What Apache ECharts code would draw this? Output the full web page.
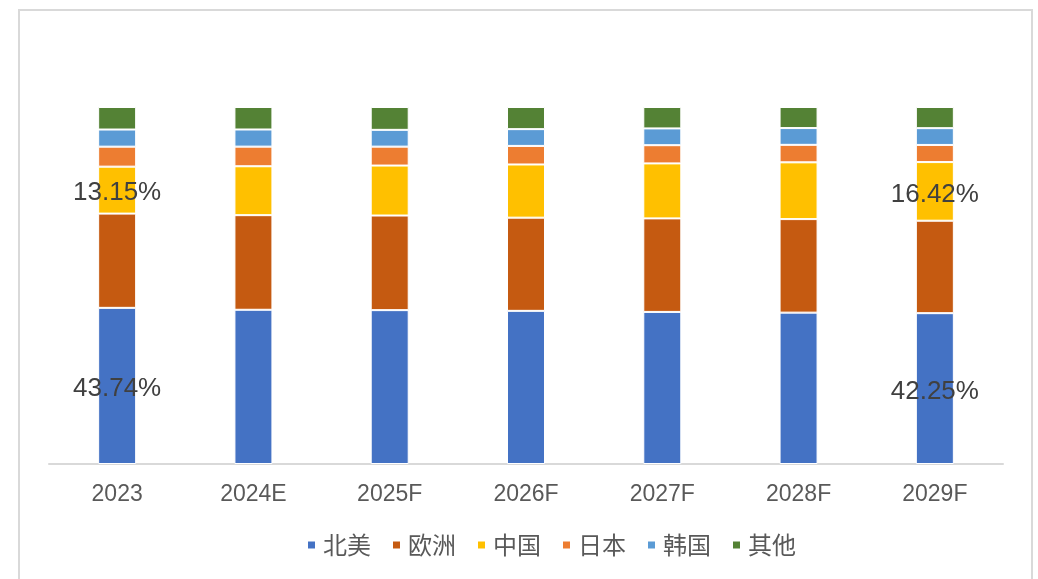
<!DOCTYPE html>
<html>
<head>
<meta charset="utf-8">
<script src="https://cdn.jsdelivr.net/npm/echarts@6/dist/echarts.min.js"></script>
<style>
  html, body { margin: 0; padding: 0; background: #fff; }
  #main { width: 1038px; height: 579px; }
</style>
</head>
<body>
<div id="main"></div>
<script>
// 年份
const years = ['2023', '2024E', '2025F', '2026F', '2027F', '2028F', '2029F'];

// 各地区占比 (%)
const northAmerica = [43.74, 43.2, 43.1, 42.9, 42.6, 42.4, 42.25];
const europe = [26.4, 26.5, 26.5, 26.1, 26.2, 26.2, 25.9];
const china = [13.15, 13.7, 14.0, 14.9, 15.4, 15.9, 16.42];
const japan = [5.6, 5.5, 5.3, 5.2, 5.1, 4.9, 4.8];
const korea = [4.8, 4.8, 4.7, 4.7, 4.7, 4.7, 4.7];
const others = [6.31, 6.3, 6.4, 6.2, 6.0, 5.9, 5.93];

// 只在首尾柱子上显示的标签
const labelIdx = [0, 6];

const chart = echarts.init(document.getElementById('main'));

function makeSeries(name, data, color, withLabel) {
    return {
        name: name,
        type: 'bar',
        stack: 'total',
        barWidth: 38,
        itemStyle: { color: color, borderColor: '#fff', borderWidth: 1 },
        data: data.map((v, i) => {
            if (withLabel && labelIdx.includes(i)) {
                return {
                    value: v,
                    label: {
                        show: true,
                        position: 'inside',
                        offset: [0, 3],
                        formatter: v.toFixed(2) + '%',
                        color: '#404040',
                        fontSize: 26,
                        fontFamily: 'Liberation Sans'
                    }
                };
            }
            return v;
        })
    };
}

const option = {
    animation: false,
    backgroundColor: '#fff',
    graphic: [{
        type: 'rect',
        shape: { x: 19, y: 10, width: 1013, height: 600 },
        style: { fill: 'none', stroke: '#d9d9d9', lineWidth: 2 },
        silent: true
    }],
    legend: {
        left: 301,
        top: 528,
        icon: 'rect',
        itemWidth: 9,
        itemHeight: 9,
        itemGap: 20,
        textStyle: {
            fontSize: 24,
            color: '#595959',
            fontFamily: 'Noto Sans CJK SC',
            padding: [0, 0, 0, 2]
        },
        data: ['北美', '欧洲', '中国', '日本', '韩国', '其他']
    },
    grid: { left: 49, right: 35, top: 107, bottom: 115 },
    xAxis: {
        type: 'category',
        data: years,
        axisLine: { lineStyle: { color: '#d9d9d9', width: 2 } },
        axisTick: { show: false },
        axisLabel: {
            color: '#595959',
            fontSize: 23,
            fontFamily: 'Liberation Sans',
            margin: 19
        }
    },
    yAxis: {
        type: 'value',
        min: 0,
        max: 100,
        show: false,
        splitLine: { show: false }
    },
    series: [
        makeSeries('北美', northAmerica, '#4472c4', true),
        makeSeries('欧洲', europe, '#c55a11', false),
        makeSeries('中国', china, '#ffc000', true),
        makeSeries('日本', japan, '#ed7d31', false),
        makeSeries('韩国', korea, '#5b9bd5', false),
        makeSeries('其他', others, '#548235', false)
    ]
};

chart.setOption(option);
</script>
</body>
</html>
